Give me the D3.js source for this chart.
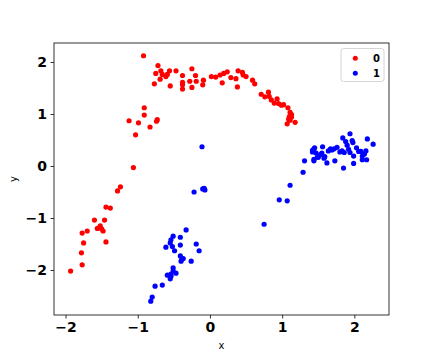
<!DOCTYPE html>
<html>
<head>
<meta charset="utf-8">
<script src="https://cdn.jsdelivr.net/npm/d3@7"></script>
<style>
  body { margin: 0; background: #fff; }
  text { font-family: "DejaVu Sans", sans-serif; }
</style>
</head>
<body>
<script>
// class 0 points (red)
var class0 = [
  [-1.93,-2.02],[-1.77,-1.90],[-1.78,-1.67],[-1.75,-1.48],[-1.77,-1.29],[-1.70,-1.25],
  [-1.48,-1.25],[-1.50,-1.21],[-1.56,-1.20],[-1.52,-1.15],[-1.60,-1.04],[-1.46,-1.04],
  [-1.44,-1.46],[-1.44,-0.79],[-1.38,-0.81],[-1.28,-0.48],[-1.24,-0.40],[-1.06,-0.03],
  [-1.03,0.60],[-1.12,0.87],[-0.99,0.83],[-0.83,0.75],[-0.73,0.89],[-0.74,0.86],
  [-0.91,0.98],[-0.91,1.12],
  [-0.92,2.12],[-0.72,1.93],[-0.75,1.78],[-0.68,1.83],[-0.66,1.76],[-0.69,1.67],
  [-0.77,1.58],[-0.59,1.76],[-0.56,1.83],[-0.61,1.72],[-0.47,1.83],[-0.55,1.54],
  [-0.38,1.74],[-0.38,1.61],[-0.38,1.56],[-0.38,1.48],[-0.25,1.87],[-0.28,1.63],
  [-0.20,1.74],[-0.19,1.63],[-0.25,1.51],[-0.09,1.65],[-0.10,1.56],[0.02,1.72],
  [0.08,1.71],[0.14,1.75],[0.19,1.78],[0.24,1.81],[0.17,1.60],[0.29,1.70],
  [0.39,1.83],[0.45,1.80],[0.36,1.68],[0.46,1.75],[0.50,1.72],[0.38,1.52],
  [0.59,1.65],[0.62,1.58],[0.71,1.38],[0.76,1.33],[0.81,1.42],[0.82,1.34],
  [0.85,1.27],[0.89,1.21],[0.93,1.29],[0.95,1.20],[0.99,1.17],[1.02,1.18],
  [1.08,1.12],[1.11,1.03],[1.13,0.99],[1.10,0.95],[1.09,0.90],[1.07,0.81],
  [1.13,0.94],[1.18,0.84],[1.11,0.88]
];

// class 1 points (blue)
var class1 = [
  [-0.82,-2.60],[-0.80,-2.52],[-0.76,-2.31],[-0.66,-2.29],[-0.55,-2.17],[-0.54,-2.12],
  [-0.59,-2.10],[-0.54,-2.08],[-0.47,-2.06],[-0.51,-2.02],[-0.51,-1.96],[-0.26,-1.83],
  [-0.40,-1.83],[-0.37,-1.78],[-0.39,-1.79],[-0.41,-1.73],[-0.49,-1.63],[-0.15,-1.63],
  [-0.19,-1.50],[-0.41,-1.52],[-0.52,-1.55],[-0.61,-1.56],[-0.55,-1.48],[-0.54,-1.42],
  [-0.51,-1.35],[-0.41,-1.37],[-0.33,-1.23],[-0.22,-0.50],[-0.10,-0.44],[-0.08,-0.43],
  [-0.07,-0.46],[-0.11,0.37],[0.75,-1.12],[0.96,-0.65],[1.07,-0.67],[1.11,-0.37],
  [1.29,-0.12],[1.31,0.10],
  [1.44,0.10],[1.42,0.30],[1.45,0.35],[1.47,0.25],[1.50,0.17],[1.44,0.33],
  [1.42,0.27],[1.44,0.13],[1.49,0.17],[1.56,0.37],[1.53,0.22],[1.58,0.15],
  [1.62,0.06],[1.64,0.29],[1.67,0.33],[1.72,0.33],[1.76,0.36],[1.73,0.10],
  [1.84,0.54],[1.94,0.62],[1.88,0.47],[1.97,0.49],[1.83,0.29],[1.86,0.26],
  [1.92,0.32],[1.94,0.26],[1.99,0.19],[2.03,0.35],[2.06,0.28],[2.11,0.19],
  [2.11,0.12],[2.17,0.12],[2.16,0.29],[2.18,0.52],[2.26,0.42],[1.99,0.05],
  [1.85,-0.04],[1.59,0.18],[1.55,0.25],[1.69,0.31],[1.90,0.40],[1.98,0.45],
  [2.09,0.28],[2.14,0.23],[1.80,0.27]
];

var labels = ["0", "1"];
var colors = ["#ff0000", "#0000ff"];
var xTicks = [-2, -1, 0, 1, 2];
var yTicks = [-2, -1, 0, 1, 2];

var width = 432,
    height = 360;

var mLeft = 54, mRight = 389, mTop = 43, mBottom = 315;

var svg = d3.select("body").append("svg")
    .attr("width", width)
    .attr("height", height);

var x = d3.scaleLinear()
    .domain([-2.16, 2.48])
    .range([mLeft, mRight]);

var y = d3.scaleLinear()
    .domain([-2.865, 2.365])
    .range([mBottom, mTop]);

// points
[class0, class1].forEach(function(pts, i) {
    svg.append("g").selectAll("circle")
        .data(pts)
        .enter().append("circle")
        .attr("cx", function(d) { return x(d[0]); })
        .attr("cy", function(d) { return y(d[1]); })
        .attr("r", 2.6)
        .style("fill", colors[i]);
});

var xAxis = d3.axisBottom(x)
    .tickValues(xTicks)
    .tickFormat(d3.format("d"))
    .tickSize(3.5)
    .tickPadding(3.5);

var yAxis = d3.axisLeft(y)
    .tickValues(yTicks)
    .tickFormat(d3.format("d"))
    .tickSize(3.5)
    .tickPadding(3.5);

var gx = svg.append("g")
    .attr("transform", "translate(0," + mBottom + ")")
    .call(xAxis);
var gy = svg.append("g")
    .attr("transform", "translate(" + mLeft + ",0)")
    .call(yAxis);

[gx, gy].forEach(function(g) {
    g.select(".domain").remove();
    g.selectAll(".tick line").attr("stroke", "#000").attr("stroke-width", 0.8);
    g.selectAll(".tick text")
        .attr("fill", "#000")
        .style("font-family", "DejaVu Sans")
        .style("font-size", "14px")
        .style("font-weight", "bold");
});

// frame
svg.append("rect")
    .attr("x", mLeft)
    .attr("y", mTop)
    .attr("width", mRight - mLeft)
    .attr("height", mBottom - mTop)
    .attr("fill", "none")
    .attr("stroke", "#000")
    .attr("stroke-width", 0.8);

// axis labels
svg.append("text")
    .attr("x", (mLeft + mRight) / 2)
    .attr("y", 349)
    .attr("text-anchor", "middle")
    .style("font-size", "10px")
    .text("x");

svg.append("text")
    .attr("transform", "translate(17," + (mTop + mBottom) / 2 + ") rotate(-90)")
    .attr("text-anchor", "middle")
    .style("font-size", "10px")
    .text("y");

// legend
var lg = svg.append("g").attr("transform", "translate(341,48.5)");
lg.append("rect")
    .attr("width", 43)
    .attr("height", 33)
    .attr("rx", 2.5)
    .attr("fill", "#fff")
    .attr("fill-opacity", 0.8)
    .attr("stroke", "#cccccc")
    .attr("stroke-width", 0.8);

labels.forEach(function(l, i) {
    lg.append("circle")
        .attr("cx", 14.3)
        .attr("cy", 9.8 + i * 15)
        .attr("r", 2.5)
        .style("fill", colors[i]);
    lg.append("text")
        .attr("x", 32)
        .attr("y", 13.5 + i * 15)
        .style("font-size", "10px")
        .style("font-weight", "bold")
        .text(l);
});
</script>
</body>
</html>
